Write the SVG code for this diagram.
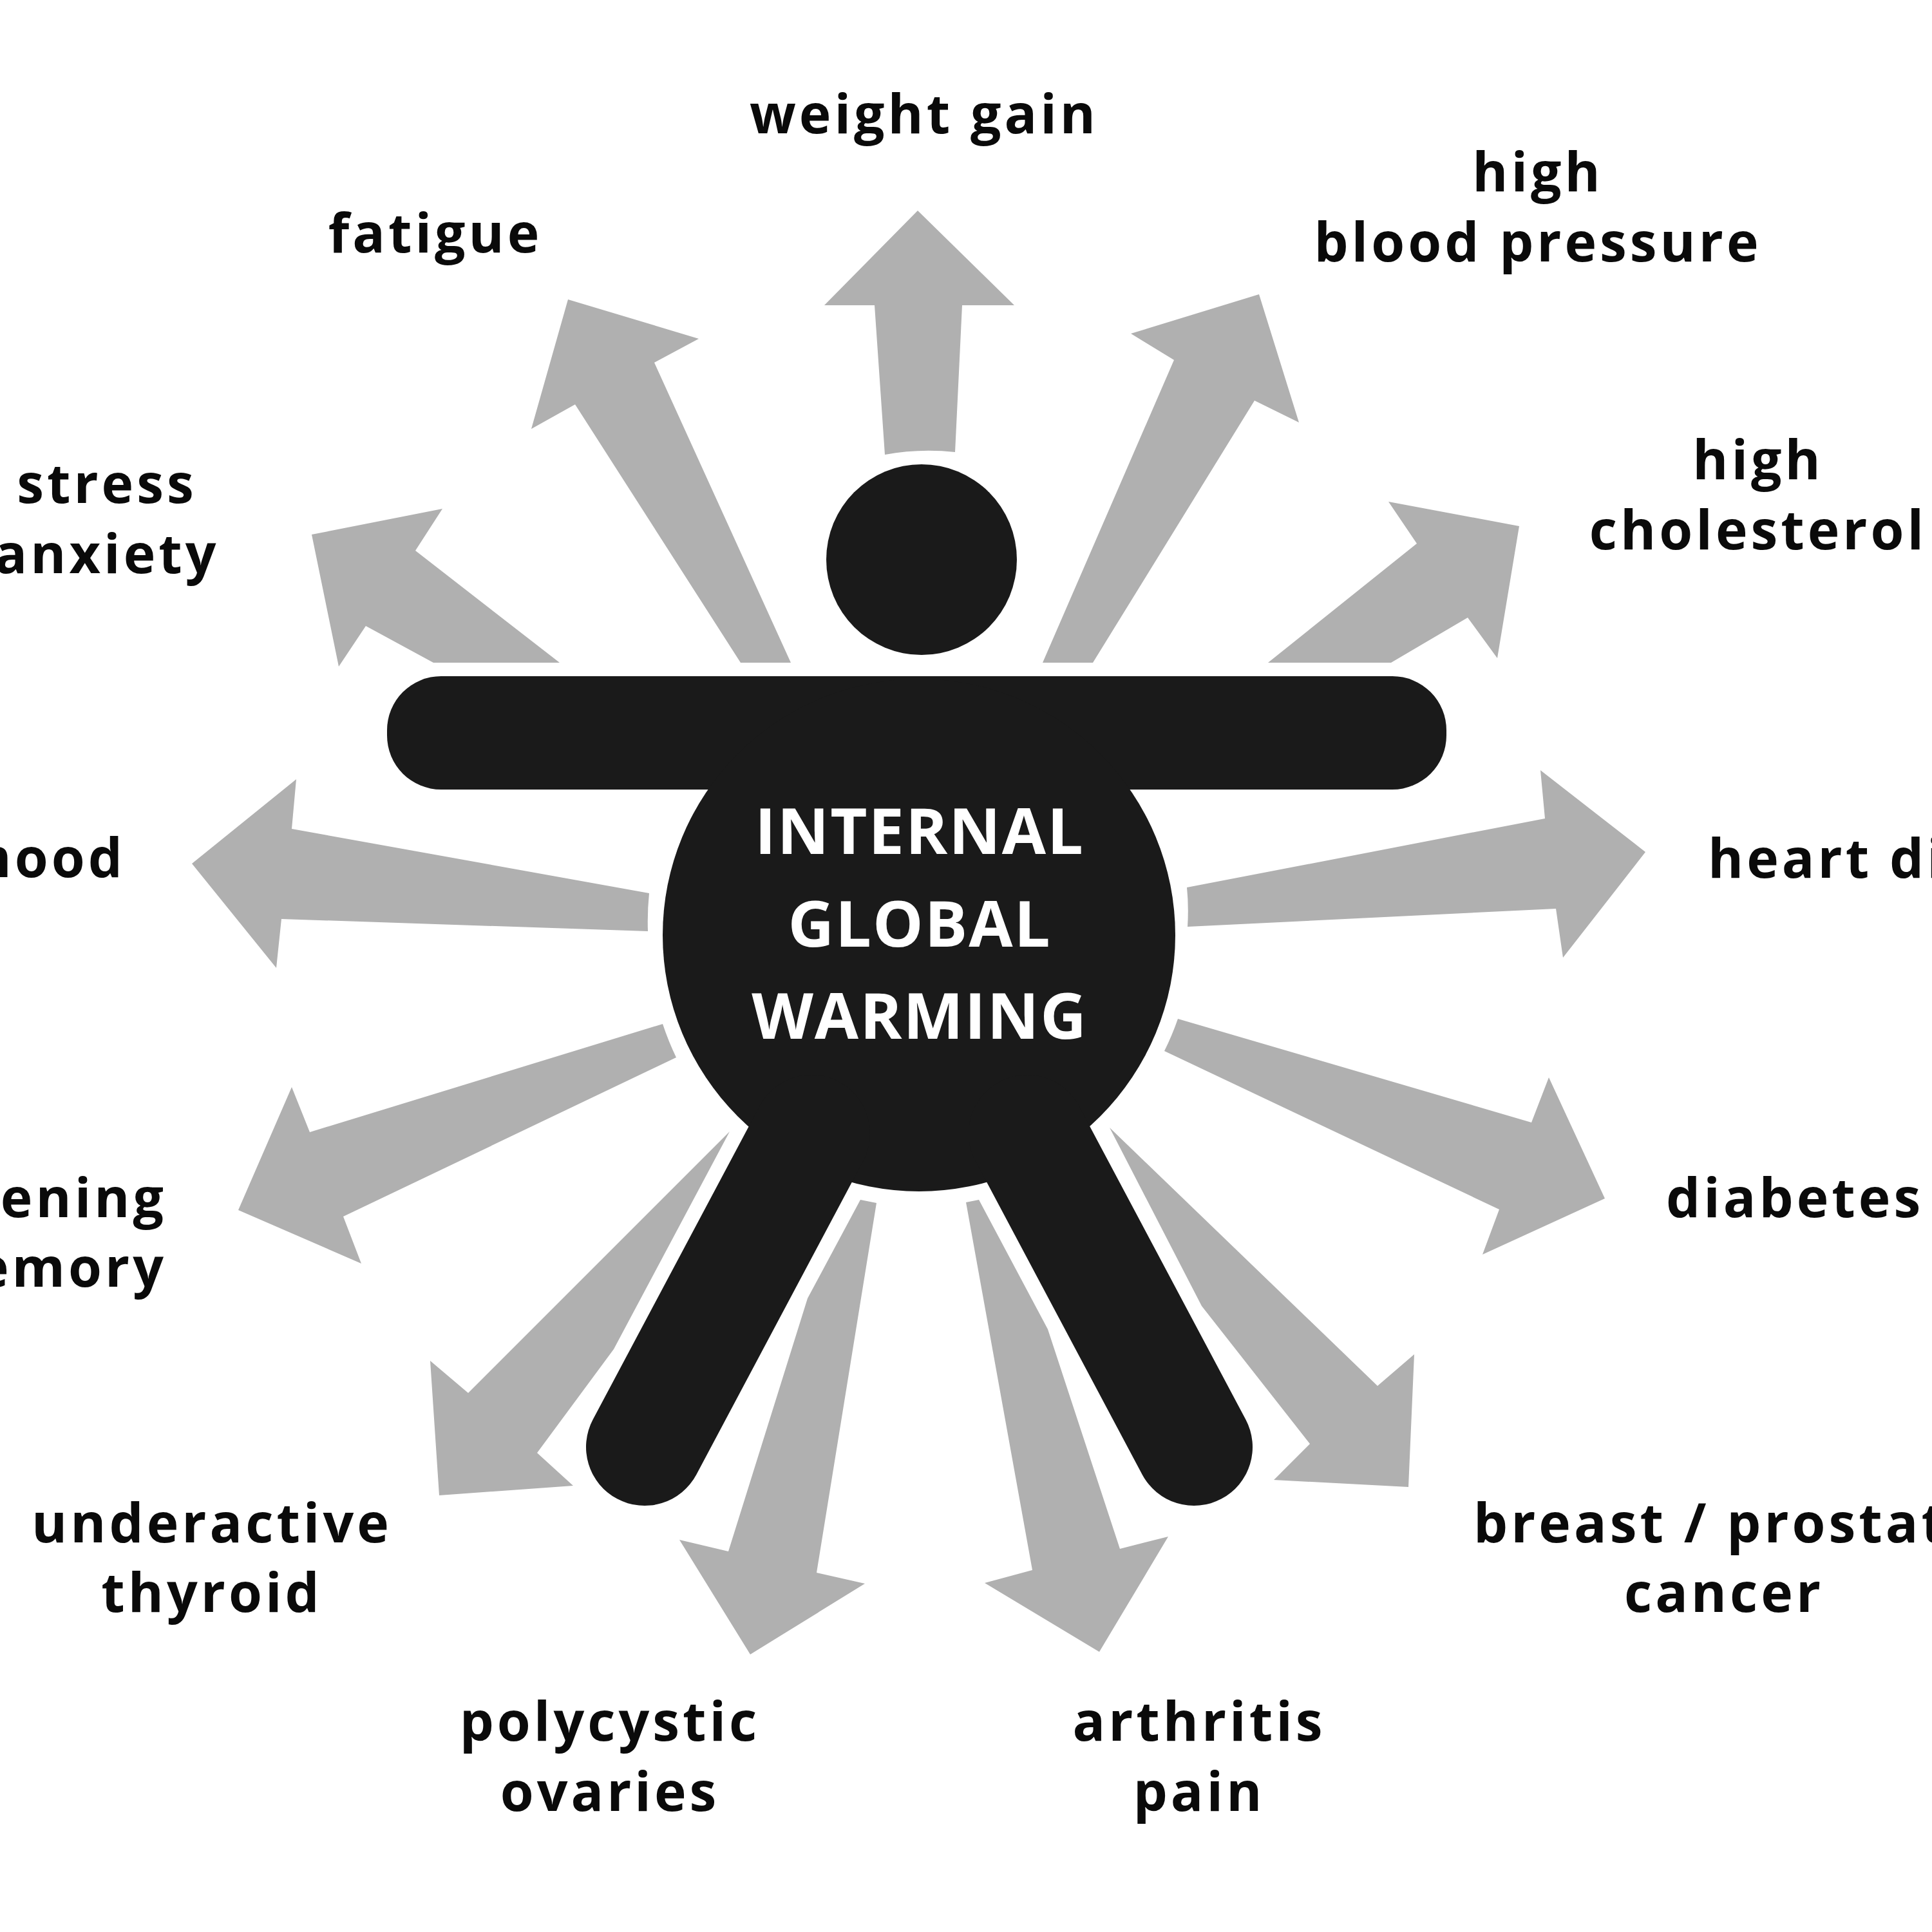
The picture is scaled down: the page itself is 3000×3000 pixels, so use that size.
<svg xmlns="http://www.w3.org/2000/svg" width="3000" height="3000" viewBox="0 0 3000 3000">
<style>
.a{fill:#b0b0b0}
.b{fill:#1a1a1a}
.l{stroke:#1a1a1a;stroke-width:182;stroke-linecap:round;fill:none}
text{font-family:"Open Sans","Noto Sans","Liberation Sans",sans-serif;font-weight:700;font-size:84px;letter-spacing:5px;fill:#0a0a0a;text-anchor:middle}
.s{text-anchor:start}
.e{text-anchor:end}
.w{fill:#fff;font-size:99px;letter-spacing:2px}
</style>
<rect width="3000" height="3000" fill="#fff"/>
<g id="connectors">
<path class="a" d="M1425 327L1575 474H1494L1483 702Q1428 696 1374 706L1358 474H1280Z"/>
<path class="a" d="M882 465L1085 526L1016 563L1228 1029H1150L893 628L825 666Z"/>
<path class="a" d="M484 830L687 790L645 855L869 1029H673L568 972L526 1035Z"/>
<path class="a" d="M1955 457L2017 656L1948 622L1697 1029H1619L1823 559L1756 518Z"/>
<path class="a" d="M2359 817L2325 1022L2279 959L2160 1029H1969L2200 844L2156 779Z"/>
<path class="a" d="M298 1341L460 1210L453 1287L1008 1387Q1005 1416 1006 1446L437 1427L429 1503Z"/>
<path class="a" d="M2555 1323L2392 1196L2399 1271L1843 1378Q1846 1408 1844 1439L2416 1411L2427 1487Z"/>
<path class="a" d="M370 1879L453 1688L481 1758L1029 1590Q1038 1617 1050 1642L533 1889L561 1962Z"/>
<path class="a" d="M2492 1861L2405 1673L2378 1743L1829 1582Q1820 1608 1808 1632L2328 1878L2302 1948Z"/>
<path class="a" d="M1133 1757L953 2095L834 2256L890 2307L682 2322L668 2113L727 2163Z"/>
<path class="a" d="M1723 1751L1866 2028L2034 2242L1978 2298L2187 2309L2196 2103L2139 2152Z"/>
<path class="a" d="M1336 1863L1361 1868L1268 2442L1343 2459L1165 2569L1055 2391L1131 2409L1254 2016Z"/>
<path class="a" d="M1520 1863L1500 1867L1603 2438L1529 2458L1707 2565L1814 2386L1739 2405L1627 2064Z"/>
</g>
<g id="figure">
<circle class="b" cx="1431" cy="869" r="148"/>
<rect class="b" x="601" y="1050" width="1645" height="176" rx="84"/>
<circle class="b" cx="1427" cy="1452" r="398"/>
<path class="l" d="M1001 2247L1260 1760"/>
<path class="l" d="M1854 2247L1595 1760"/>
<g id="title">
<text class="w" x="1428" y="1326">INTERNAL</text>
<text class="w" x="1428" y="1470">GLOBAL</text>
<text class="w" x="1428" y="1613">WARMING</text>
</g>
</g>
<g id="n-weight"><text x="1435" y="207">weight gain</text></g>
<g id="n-bp"><text x="2388" y="297">high</text><text x="2388" y="406">blood pressure</text></g>
<g id="n-chol"><text x="2730" y="744">high</text><text x="2730" y="853">cholesterol</text></g>
<g id="n-heart"><text class="s" x="2652" y="1363">heart di</text></g>
<g id="n-diabetes"><text class="s" x="2587" y="1890">diabetes</text></g>
<g id="n-cancer"><text class="s" x="2288" y="2395">breast / prostat</text><text x="2677" y="2503">cancer</text></g>
<g id="n-arthritis"><text x="1862" y="2703">arthritis</text><text x="1862" y="2812">pain</text></g>
<g id="n-ovaries"><text x="947" y="2703">polycystic</text><text x="947" y="2812">ovaries</text></g>
<g id="n-thyroid"><text x="329" y="2395">underactive</text><text x="329" y="2503">thyroid</text></g>
<g id="n-memory"><text class="e" x="259" y="1890">ening</text><text class="e" x="259" y="1998">emory</text></g>
<g id="n-mood"><text class="e" x="195" y="1362">mood</text></g>
<g id="n-stress"><text x="166" y="781">stress</text><text x="166" y="890">anxiety</text></g>
<g id="n-fatigue"><text x="676" y="392">fatigue</text></g>
</svg>
